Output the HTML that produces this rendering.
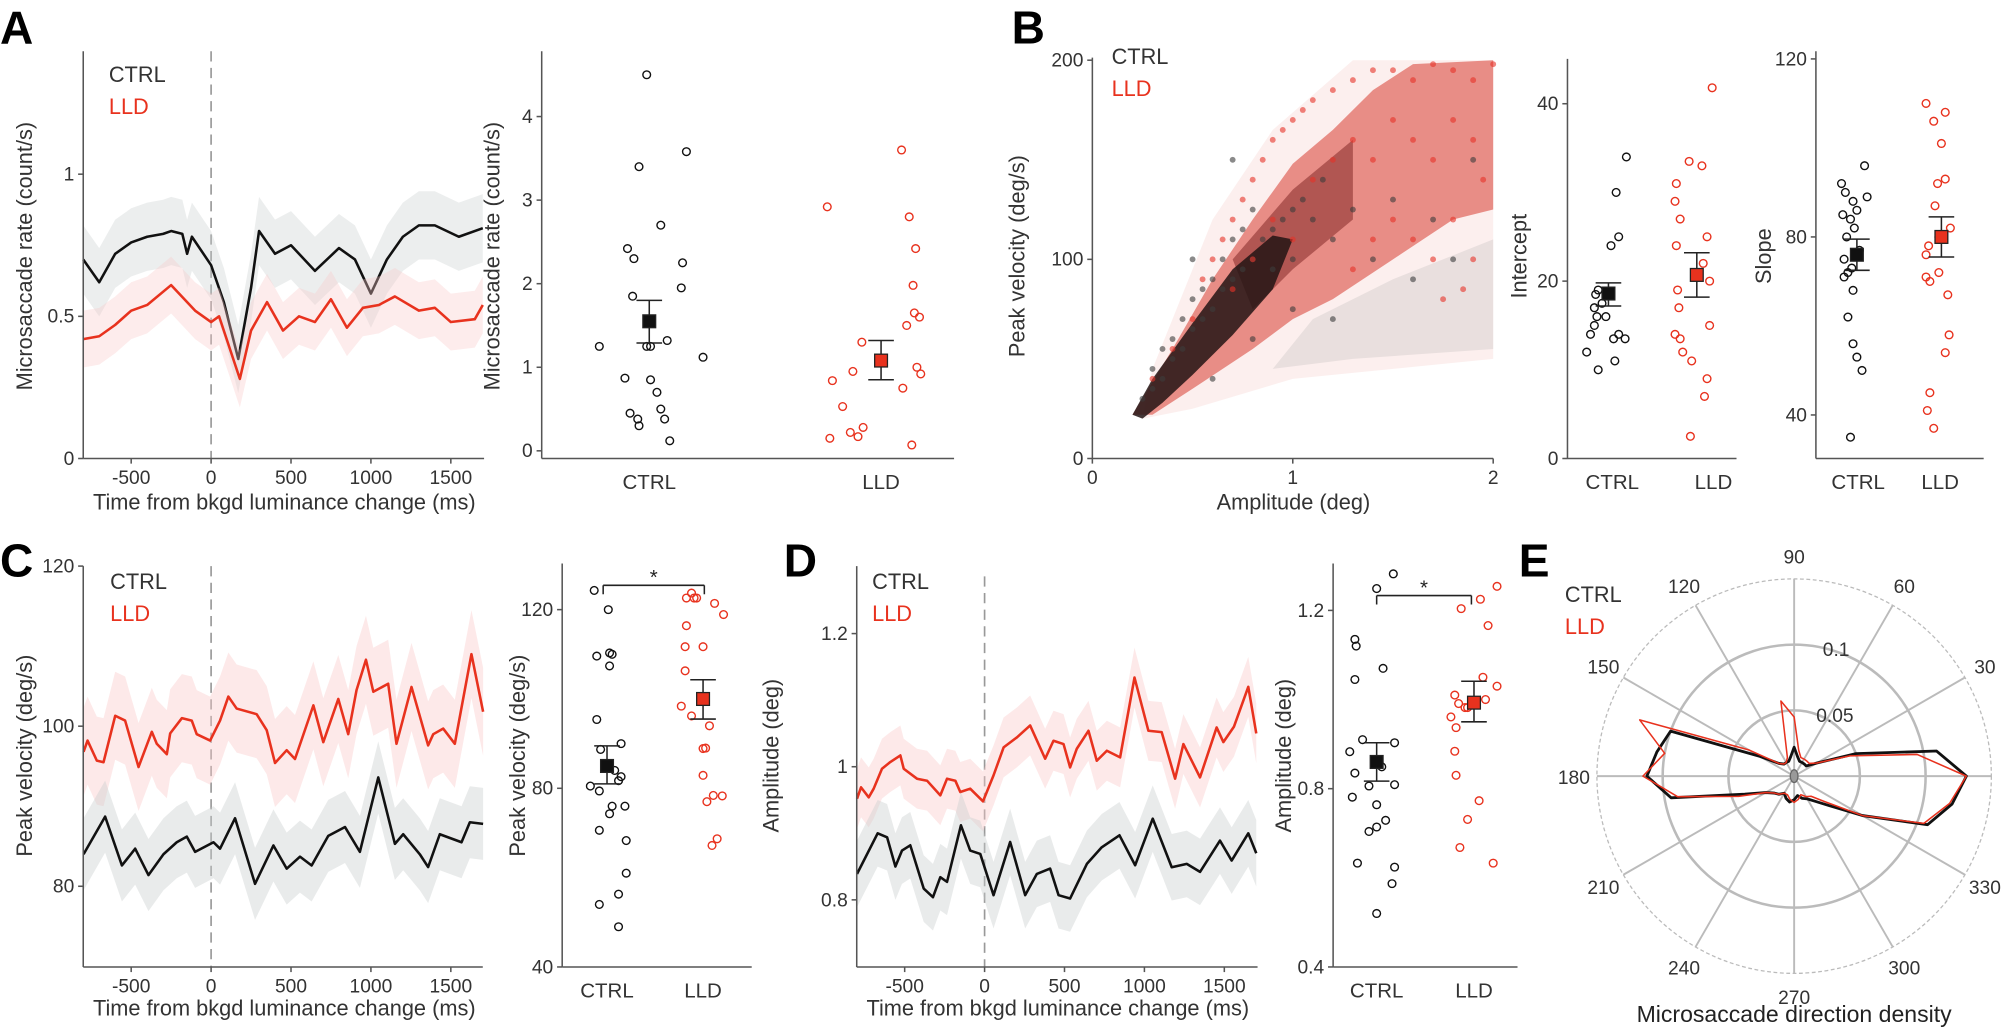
<!DOCTYPE html>
<html><head><meta charset="utf-8"><style>
html,body{margin:0;padding:0;background:#fff;}
svg{display:block;font-family:"Liberation Sans",sans-serif;}
</style></head><body>
<svg id="fig" width="2008" height="1031" viewBox="0 0 1568 805" preserveAspectRatio="none" xmlns="http://www.w3.org/2000/svg"></svg>
<script>
// ---------- DATA ----------
const timeA = [-800,-700,-600,-500,-400,-300,-250,-180,-150,-120,0,80,170,250,300,400,500,650,800,900,1000,1100,1200,1300,1400,1550,1700];
const ctrlRateA = [0.70,0.62,0.72,0.76,0.78,0.79,0.80,0.79,0.72,0.78,0.68,0.55,0.35,0.60,0.80,0.72,0.75,0.66,0.74,0.70,0.58,0.70,0.78,0.82,0.82,0.78,0.81];
const timeA2 = [-800,-700,-600,-500,-400,-250,-100,0,50,180,250,350,450,550,650,750,850,950,1050,1150,1300,1400,1500,1650,1700];
const lldRateA = [0.42,0.43,0.47,0.52,0.54,0.61,0.52,0.48,0.50,0.28,0.45,0.55,0.45,0.50,0.48,0.56,0.46,0.53,0.54,0.57,0.52,0.53,0.48,0.49,0.54];
const ctrlSemA = 0.12, lldSemA = 0.10;

const ctrlRate = [4.5,3.4,3.58,2.7,2.42,2.3,2.25,1.95,1.85,1.25,1.32,1.25,1.25,1.12,0.87,0.85,0.7,0.5,0.45,0.38,0.38,0.3,0.12];
const ctrlRateJit = [-2,-8,29,9,-17,-12,26,25,-13,-39,14,-2,1,42,-19,1,6,9,-15,-9,12,-8,16];
const lldRate = [2.92,3.6,2.8,2.42,1.98,1.65,1.6,1.5,1.3,1.0,0.95,0.84,0.75,0.53,0.28,0.22,0.17,0.15,0.07,0.92];
const lldRateJit = [-42,16,22,27,25,26,30,20,-15,28,-22,-38,17,-30,-14,-24,-18,-40,24,31];
const rateMean = [1.55,1.08], rateLo=[1.29,0.85], rateHi=[1.80,1.32];

const ctrlAmpB=[0.25,0.3,0.3,0.35,0.35,0.4,0.4,0.45,0.45,0.5,0.5,0.55,0.55,0.6,0.6,0.65,0.65,0.7,0.7,0.75,0.75,0.8,0.8,0.85,0.9,0.9,0.95,1.0,1.0,1.05,1.1,1.15,1.2,1.3,1.4,1.5,1.6,1.7,1.8,1.9,1.2,0.8,1.0,0.6,0.7,0.5];
const ctrlVelB=[30,35,45,40,55,50,60,55,70,65,80,70,85,75,90,85,100,90,110,95,115,100,125,110,115,95,120,125,100,130,120,140,110,125,100,130,90,120,100,150,70,60,75,40,150,100];
const lldAmpB=[0.3,0.4,0.5,0.55,0.6,0.65,0.7,0.75,0.8,0.85,0.9,0.95,1.0,1.05,1.1,1.2,1.3,1.4,1.5,1.6,1.7,1.8,1.9,2.0,1.1,1.2,1.3,1.4,1.5,1.6,1.7,1.8,1.9,1.95,1.5,1.6,1.7,1.8,1.9,1.75,1.85,1.4,1.3,1.0,0.9,0.8,0.7];
const lldVelB=[40,55,70,90,100,110,120,130,140,150,160,165,170,175,180,185,190,195,195,190,198,195,190,198,140,150,160,150,170,160,150,170,160,140,120,110,100,120,100,80,85,110,95,110,120,100,85];

const ctrlInt=[34,30,25,24,19,18.5,17.5,17,16,16,15,14,14,13.5,13.5,12,11,10];
const ctrlIntJit=[14,6,8,2,-8,-10,-5,-11,-9,-2,-11,-14,8,13,4,-17,5,-8];
const lldInt=[41.8,33.5,33,31,29,27,25,24,22,20,19,17,15,14,13.5,12,11,9,7,2.5];
const lldIntJit=[12,-6,4,-16,-17,-13,8,-16,5,10,-15,-14,10,-17,-13,-11,-4,8,6,-5];
const intMean=[18.6,20.7], intLo=[17.2,18.2], intHi=[19.8,23.2];

const ctrlSlope=[96,92,90,89,88,86,85,84,82,80,77,75,73,72,71,68,62,56,53,50,35];
const ctrlSlopeJit=[6,-12,-9,8,-3,0,-11,-5,-2,-8,2,-10,-4,-7,-10,-3,-7,-3,0,4,-5];
const lldSlope=[110,108,106,101,93,92,87,82,80,78,76,72,71,70,67,58,54,45,41,37];
const lldSlopeJit=[-12,3,-6,0,3,-3,-5,7,-2,-10,-12,-2,-12,-9,5,6,3,-9,-11,-6];
const slopeMean=[76,80], slopeLo=[72.5,75.5], slopeHi=[79.5,84.5];

const timeC=[-798,-773,-715,-673,-600,-538,-454,-371,-340,-277,-256,-183,-121,-90,-6,56,108,160,285,348,400,473,525,640,702,796,858,910,969,1015,1108,1160,1254,1358,1390,1452,1525,1629,1702];
const lldVelC=[96.8,98.2,95.7,95.5,101.3,100.7,94.9,99.3,97.8,96.5,99.1,101,100.7,99,98.2,100.7,103.7,102.2,101.5,99.5,95.4,97,95.9,102.6,98,103.4,99,104.5,108.3,104.3,105.3,97.8,104.9,97.6,99,99.7,97.8,109,101.8];
const timeC2=[-798,-663,-558,-475,-392,-298,-215,-152,-100,15,56,150,275,390,473,556,629,733,838,931,1046,1150,1202,1306,1358,1431,1567,1619,1702];
const ctrlVelC=[84,88.7,82.6,84.7,81.4,84,85.5,86.2,84.3,85.5,84.7,88.5,80.3,85.1,82.2,83.7,82.6,86.3,87.4,84.3,93.6,85.3,86.5,84,82.4,86.5,85.5,88,87.8];
const ctrlSemC=4.5, lldSemC=5.5;

const ctrlPV=[124.3,120,109.6,110.3,110,107.4,95.4,90,88.7,84,82.6,81.7,80.5,79.4,76,76,74.3,70.6,68.3,61,56.3,54,49];
const ctrlPVJit=[-10,1,-8,2,4,2,-8,11,-5,6,11,9,-13,-6,4,14,2,-6,15,15,9,-6,9];
const lldPV=[123.7,122.6,122.6,122.6,121.4,118.9,116.4,111.7,111.7,106.3,98.4,96.2,94,88.9,89,82.9,78.4,78.3,77,68.7,67.2];
const lldPVJit=[-9,-13,-7,-5,9,16,-13,-14,0,-14,-17,-9,5,0,2,0,8,15,3,11,7];
const pvMean=[85,100], pvLo=[81,95.5], pvHi=[89.5,104.3];

const timeD=[-798,-773,-725,-694,-642,-590,-527,-506,-423,-360,-277,-235,-183,-152,-90,-10,56,119,202,285,379,431,494,535,577,650,702,765,848,938,1025,1108,1192,1244,1348,1452,1494,1560,1650,1700];
const lldAmpD=[0.952,0.969,0.954,0.967,0.997,1.007,1.017,0.997,0.982,0.979,0.957,0.982,0.979,0.962,0.967,0.948,0.987,1.029,1.044,1.062,1.012,1.039,1.034,0.999,1.027,1.054,1.009,1.024,1.014,1.134,1.054,1.052,0.982,1.034,0.984,1.059,1.037,1.06,1.12,1.05];
const timeD2=[-798,-669,-610,-558,-517,-465,-381,-323,-277,-235,-148,-90,-27,56,160,254,327,410,463,535,640,733,844,942,1052,1171,1265,1348,1473,1546,1650,1700];
const ctrlAmpD=[0.839,0.9,0.894,0.85,0.874,0.882,0.817,0.804,0.834,0.827,0.912,0.874,0.869,0.807,0.887,0.807,0.839,0.847,0.807,0.802,0.854,0.879,0.897,0.852,0.922,0.849,0.854,0.842,0.889,0.859,0.9,0.87];
const ctrlSemD=0.05, lldSemD=0.045;

const ctrlAmp=[1.282,1.249,1.135,1.12,1.07,1.045,0.91,0.903,0.883,0.849,0.835,0.806,0.809,0.781,0.764,0.729,0.714,0.704,0.633,0.624,0.587,0.52];
const ctrlAmpJit=[13,0,-17,-16,5,-17,-11,14,-21,4,-17,-6,14,-19,0,7,0,-6,-15,14,12,0];
const lldAmp=[1.254,1.225,1.204,1.166,1.05,1.03,1.01,0.991,1.0,0.982,0.982,0.961,0.937,0.884,0.83,0.773,0.731,0.668,0.633];
const lldAmpJit=[18,5,-10,11,7,18,-15,-12,9,-7,-5,-18,-14,-15,-14,4,-5,-11,15];
const ampMean=[0.86,0.993], ampLo=[0.817,0.95], ampHi=[0.903,1.041];

const dirAngles=[0,10,20,30,40,50,60,70,80,90,100,110,120,130,140,150,160,170,180,190,200,210,220,230,240,250,260,270,280,290,300,310,320,330,340,350];
const ctrlDir=[0.131,0.11,0.05,0.02,0.012,0.012,0.012,0.012,0.015,0.022,0.015,0.012,0.012,0.012,0.015,0.03,0.1,0.106,0.112,0.095,0.04,0.025,0.02,0.018,0.015,0.018,0.02,0.018,0.015,0.018,0.02,0.025,0.035,0.06,0.108,0.122];
const lldDir=[0.131,0.095,0.045,0.02,0.015,0.015,0.015,0.015,0.02,0.045,0.058,0.015,0.012,0.012,0.015,0.04,0.125,0.1,0.115,0.09,0.045,0.025,0.02,0.018,0.015,0.015,0.018,0.02,0.018,0.015,0.018,0.02,0.03,0.06,0.105,0.12];
const polarTicks=[0,30,60,90,120,150,180,210,240,270,300,330];

// ---------- HELPERS ----------
const NS="http://www.w3.org/2000/svg";
const svg=document.getElementById('fig');
const RED="#e8321e", BLK="#111", TXT="#333", AX="#555";
function mk(tag,attrs,parent){const e=document.createElementNS(NS,tag);for(const k in attrs)e.setAttribute(k,attrs[k]);(parent||svg).appendChild(e);return e;}
function lin(d0,d1,r0,r1){return v=>r0+(v-d0)/(d1-d0)*(r1-r0);}
function txt(s,x,y,size,color,anchor,rot,name,weight){
  const t=mk('text',{x:x,y:y,'font-size':size,fill:color,'text-anchor':anchor||'middle'});
  if(rot)t.setAttribute('transform','rotate(-90 '+x+' '+y+')');
  if(weight)t.setAttribute('font-weight',weight);
  t.textContent=s;
  
  
  return t;
}
function line(x1,y1,x2,y2,stroke,w,name,dash){
  const l=mk('line',{x1:x1,y1:y1,x2:x2,y2:y2,stroke:stroke,'stroke-width':w});
  if(dash)l.setAttribute('stroke-dasharray',dash);
  
  
  return l;
}
function axes(x0,x1,y0,y1,yTicks,yFn,yLabels,xTicks,xFn,xLabels,prefix){
  line(x0,y1,x0,y0,AX,1.2,prefix+'-y-axis');
  line(x0,y0,x1,y0,AX,1.2,prefix+'-x-axis');
  yTicks.forEach((v,i)=>{
    line(x0-4,yFn(v),x0,yFn(v),AX,1.2,prefix+'-y-tick');
    txt(yLabels[i],x0-7,yFn(v)+5,15,TXT,'end',false,prefix+'-y-tick-label');
  });
  (xTicks||[]).forEach((v,i)=>{
    line(xFn(v),y0,xFn(v),y0+4,AX,1.2,prefix+'-x-tick');
    txt(xLabels[i],xFn(v),y0+20,15,TXT,'middle',false,prefix+'-x-tick-label');
  });
}
function trace(ts,vs,sem,xf,yf,color,fill,name){
  let up=ts.map((t,i)=>xf(t)+','+yf(vs[i]+sem)).join(' ');
  let dn=ts.map((t,i)=>xf(t)+','+yf(vs[i]-sem)).reverse().join(' ');
  const b=mk('polygon',{points:up+' '+dn,fill:fill,stroke:'none'});
  
  
  const p=mk('polyline',{points:ts.map((t,i)=>xf(t)+','+yf(vs[i])).join(' '),fill:'none',stroke:color,'stroke-width':2,'stroke-linejoin':'round'});
  
  
}
function dots(vals,jit,cx,yf,color,name){
  vals.forEach((v,i)=>{
    const c=mk('circle',{cx:cx+jit[i],cy:yf(v),r:3,fill:'none',stroke:color,'stroke-width':1.1});
    
    
  });
}
function meanBar(m,lo,hi,cx,yf,fill,name){
  line(cx,yf(lo),cx,yf(hi),'#222',1.2,name+'-error-bar');
  line(cx-10,yf(lo),cx+10,yf(lo),'#222',1.2,name+'-error-cap');
  line(cx-10,yf(hi),cx+10,yf(hi),'#222',1.2,name+'-error-cap');
  const r=mk('rect',{x:cx-5,y:yf(m)-5,width:10,height:10,fill:fill,stroke:'#222','stroke-width':1});
  
  
}
function legend(x,y,name){
  txt('CTRL',x,y,17,TXT,'start',false,name+'-ctrl');
  txt('LLD',x,y+25,17,RED,'start',false,name+'-lld');
}
function bracket(x1,x2,y,name){
  line(x1,y,x2,y,'#222',1.2,name+'-significance-bracket');
  line(x1,y,x1,y+7,'#222',1.2,name+'-significance-bracket-left');
  line(x2,y,x2,y+7,'#222',1.2,name+'-significance-bracket-right');
  txt('*',(x1+x2)/2,y-1,16,'#222','middle',false,name+'-significance-star');
}

// ---------- PANEL A ----------
txt('A',0,34,36,'#000','start',false,'panel-label-a','bold');
{
  const xf=lin(-800,1700,65,377), yf=lin(0,1,358,136);
  line(xf(0),40,xf(0),358,'#999',1.3,'a-stimulus-line','8,5');
  trace(timeA,ctrlRateA,ctrlSemA,xf,yf,BLK,'rgba(200,205,205,0.35)','a-ctrl');
  trace(timeA2,lldRateA,lldSemA,xf,yf,RED,'rgba(250,200,200,0.35)','a-lld');
  axes(65,378,358,40,[0,0.5,1],yf,['0','0.5','1'],[-500,0,500,1000,1500],xf,['-500','0','500','1000','1500'],'a-time');
  txt('Time from bkgd luminance change (ms)',222,398,17,TXT,'middle',false,'a-x-axis-title');
  txt('Microsaccade rate (count/s)',25,200,17,TXT,'middle',true,'a-y-axis-title');
  legend(85,64,'a-legend');
}
{
  const yf=lin(0,4,352,91);
  axes(423,745,358,40,[0,1,2,3,4],yf,['0','1','2','3','4'],[],null,[],'a-rate');
  txt('CTRL',507,382,16,TXT,'middle',false,'a-ctrl-label');
  txt('LLD',688,382,16,TXT,'middle',false,'a-lld-label');
  dots(ctrlRate,ctrlRateJit,507,yf,BLK,'a-ctrl-subject');
  dots(lldRate,lldRateJit,688,yf,RED,'a-lld-subject');
  meanBar(rateMean[0],rateLo[0],rateHi[0],507,yf,BLK,'a-ctrl');
  meanBar(rateMean[1],rateLo[1],rateHi[1],688,yf,RED,'a-lld');
  txt('Microsaccade rate (count/s)',390,200,17,TXT,'middle',true,'a-rate-y-axis-title');
}

// ---------- PANEL B ----------
txt('B',790,34,36,'#000','start',false,'panel-label-b','bold');
{
  const xf=lin(0,2,853,1166), yf=lin(0,200,358,47);
  const sparse=[[0.3,45],[0.6,120],[0.9,165],[1.3,200],[2,200],[2,50],[1.5,45],[1.0,40],[0.5,25],[0.25,20]];
  const gry=[[0.9,45],[1.3,50],[2,55],[2,110],[1.5,90],[1.1,70]];
  const env=[[0.2,22],[0.4,55],[0.6,90],[0.8,120],[1.0,148],[1.2,165],[1.4,185],[1.6,198],[2,200],[2,125],[1.8,120],[1.5,100],[1.2,80],[1.0,70],[0.8,55],[0.5,35],[0.3,22]];
  const mid=[[0.7,100],[1.0,135],[1.3,160],[1.3,120],[1.0,95],[0.8,75]];
  const core=[[0.2,22],[0.3,40],[0.5,68],[0.7,95],[0.9,112],[1.0,110],[0.9,85],[0.7,62],[0.5,42],[0.35,28],[0.25,20]];
  [[sparse,'rgba(220,80,70,0.09)','b-sparse-cloud'],[gry,'rgba(160,160,160,0.2)','b-ctrl-sparse-cloud'],[env,'rgba(215,60,50,0.55)','b-lld-cloud'],[mid,'rgba(110,20,20,0.45)','b-overlap-cloud'],[core,'rgba(35,20,20,0.85)','b-ctrl-cloud']].forEach(s=>{
    const p=mk('polygon',{points:s[0].map(q=>xf(q[0])+','+yf(q[1])).join(' '),fill:s[1]});
    
    
  });
  ctrlAmpB.forEach((a,i)=>{const c=mk('circle',{cx:xf(a),cy:yf(ctrlVelB[i]),r:2.3,fill:'rgba(60,60,60,0.6)'});
    
    });
  lldAmpB.forEach((a,i)=>{const c=mk('circle',{cx:xf(a),cy:yf(lldVelB[i]),r:2.3,fill:'rgba(230,50,40,0.6)'});
    
    });
  axes(853,1166,358,45,[0,100,200],yf,['0','100','200'],[0,1,2],xf,['0','1','2'],'b-main');
  txt('Amplitude (deg)',1010,398,17,TXT,'middle',false,'b-x-axis-title');
  txt('Peak velocity (deg/s)',800,200,17,TXT,'middle',true,'b-y-axis-title');
  legend(868,50,'b-legend');
}
{
  const yf=lin(0,40,358,81);
  axes(1224,1356,358,46,[0,20,40],yf,['0','20','40'],[],null,[],'b-intercept');
  txt('CTRL',1259,382,16,TXT,'middle',false,'b-intercept-ctrl-label');
  txt('LLD',1338,382,16,TXT,'middle',false,'b-intercept-lld-label');
  dots(ctrlInt,ctrlIntJit,1256,yf,BLK,'b-intercept-ctrl-subject');
  dots(lldInt,lldIntJit,1325,yf,RED,'b-intercept-lld-subject');
  meanBar(intMean[0],intLo[0],intHi[0],1256,yf,BLK,'b-intercept-ctrl');
  meanBar(intMean[1],intLo[1],intHi[1],1325,yf,RED,'b-intercept-lld');
  txt('Intercept',1192,200,17,TXT,'middle',true,'b-intercept-y-axis-title');
}
{
  const yf=lin(40,120,324,46);
  axes(1418,1549,358,40,[40,80,120],yf,['40','80','120'],[],null,[],'b-slope');
  txt('CTRL',1451,382,16,TXT,'middle',false,'b-slope-ctrl-label');
  txt('LLD',1515,382,16,TXT,'middle',false,'b-slope-lld-label');
  dots(ctrlSlope,ctrlSlopeJit,1450,yf,BLK,'b-slope-ctrl-subject');
  dots(lldSlope,lldSlopeJit,1516,yf,RED,'b-slope-lld-subject');
  meanBar(slopeMean[0],slopeLo[0],slopeHi[0],1450,yf,BLK,'b-slope-ctrl');
  meanBar(slopeMean[1],slopeLo[1],slopeHi[1],1516,yf,RED,'b-slope-lld');
  txt('Slope',1383,200,17,TXT,'middle',true,'b-slope-y-axis-title');
}

// ---------- PANEL C ----------
txt('C',0,450,36,'#000','start',false,'panel-label-c','bold');
{
  const xf=lin(-800,1700,65,377), yf=lin(80,120,692,442);
  line(xf(0),442,xf(0),755,'#999',1.3,'c-stimulus-line','8,5');
  trace(timeC,lldVelC,lldSemC,xf,yf,RED,'rgba(250,200,200,0.4)','c-lld');
  trace(timeC2,ctrlVelC,ctrlSemC,xf,yf,BLK,'rgba(200,205,205,0.4)','c-ctrl');
  axes(65,377,755,442,[80,100,120],yf,['80','100','120'],[-500,0,500,1000,1500],xf,['-500','0','500','1000','1500'],'c-time');
  txt('Time from bkgd luminance change (ms)',222,793,17,TXT,'middle',false,'c-x-axis-title');
  txt('Peak velocity (deg/s)',25,590,17,TXT,'middle',true,'c-y-axis-title');
  legend(86,460,'c-legend');
}
{
  const yf=lin(40,120,755,476);
  axes(439,587,755,440,[40,80,120],yf,['40','80','120'],[],null,[],'c-pv');
  txt('CTRL',474,779,16,TXT,'middle',false,'c-ctrl-label');
  txt('LLD',549,779,16,TXT,'middle',false,'c-lld-label');
  dots(ctrlPV,ctrlPVJit,474,yf,BLK,'c-ctrl-subject');
  dots(lldPV,lldPVJit,549,yf,RED,'c-lld-subject');
  meanBar(pvMean[0],pvLo[0],pvHi[0],474,yf,BLK,'c-ctrl');
  meanBar(pvMean[1],pvLo[1],pvHi[1],549,yf,RED,'c-lld');
  bracket(471,550,457,'c');
  txt('Peak velocity (deg/s)',410,590,17,TXT,'middle',true,'c-pv-y-axis-title');
}

// ---------- PANEL D ----------
txt('D',612,450,36,'#000','start',false,'panel-label-d','bold');
{
  const xf=lin(-800,1700,669,981), yf=lin(0.8,1.2,702.6,494.7);
  line(xf(0),450,xf(0),755,'#999',1.3,'d-stimulus-line','8,5');
  trace(timeD,lldAmpD,lldSemD,xf,yf,RED,'rgba(250,200,200,0.4)','d-lld');
  trace(timeD2,ctrlAmpD,ctrlSemD,xf,yf,BLK,'rgba(200,205,205,0.4)','d-ctrl');
  axes(669,982,755,442,[0.8,1,1.2],yf,['0.8','1','1.2'],[-500,0,500,1000,1500],xf,['-500','0','500','1000','1500'],'d-time');
  txt('Time from bkgd luminance change (ms)',826,793,17,TXT,'middle',false,'d-x-axis-title');
  txt('Amplitude (deg)',608,590,17,TXT,'middle',true,'d-y-axis-title');
  legend(681,460,'d-legend');
}
{
  const yf=lin(0.4,1.2,755,476.6);
  axes(1041,1185,755,440,[0.4,0.8,1.2],yf,['0.4','0.8','1.2'],[],null,[],'d-amp');
  txt('CTRL',1075,779,16,TXT,'middle',false,'d-ctrl-label');
  txt('LLD',1151,779,16,TXT,'middle',false,'d-lld-label');
  dots(ctrlAmp,ctrlAmpJit,1075,yf,BLK,'d-ctrl-subject');
  dots(lldAmp,lldAmpJit,1151,yf,RED,'d-lld-subject');
  meanBar(ampMean[0],ampLo[0],ampHi[0],1075,yf,BLK,'d-ctrl');
  meanBar(ampMean[1],ampLo[1],ampHi[1],1151,yf,RED,'d-lld');
  bracket(1075,1149,465,'d');
  txt('Amplitude (deg)',1008,590,17,TXT,'middle',true,'d-amp-y-axis-title');
}

// ---------- PANEL E ----------
txt('E',1186,450,36,'#000','start',false,'panel-label-e','bold');
{
  const cx=1401, cy=606, R=154, rf=lin(0,0.15,0,R);
  const outer=mk('circle',{cx:cx,cy:cy,r:R,fill:'none',stroke:'#bbb','stroke-width':1,'stroke-dasharray':'3,2'});
  
  
  [0.05,0.1].forEach(v=>{const c=mk('circle',{cx:cx,cy:cy,r:rf(v),fill:'none',stroke:'#bbb','stroke-width':2});
    
    });
  polarTicks.forEach(a=>{
    const t=a*Math.PI/180;
    line(cx,cy,cx+R*Math.cos(t),cy-R*Math.sin(t),'#bbb',1.5,'e-angle-spoke');
    txt(String(a),cx+172*Math.cos(t),cy-172*Math.sin(t)+6,15,TXT,'middle',false,'e-angle-label');
  });
  txt('0.1',cx+rf(0.1)*Math.cos(1.45)+10,cy-rf(0.1)*Math.sin(1.45)+8,15,TXT,'start',false,'e-radial-label');
  txt('0.05',cx+rf(0.05)*Math.cos(1.35)+6,cy-rf(0.05)*Math.sin(1.35)+8,15,TXT,'start',false,'e-radial-label');
  function polar(vals,color,w,name){
    const pts=dirAngles.map((a,i)=>{const t=a*Math.PI/180;return (cx+rf(vals[i])*Math.cos(t))+','+(cy-rf(vals[i])*Math.sin(t));});
    const p=mk('polygon',{points:pts.join(' '),fill:'none',stroke:color,'stroke-width':w,'stroke-linejoin':'round'});
    
    
  }
  polar(ctrlDir,BLK,2.2,'e-ctrl-direction-density');
  polar(lldDir,RED,1.2,'e-lld-direction-density');
  const ce=mk('ellipse',{cx:cx,cy:cy,rx:3,ry:5,fill:'#999',stroke:'#666'});
  
  
  txt('Microsaccade direction density',cx,798,18,'#222','middle',false,'e-title');
  legend(1222,470,'e-legend');
}
</script>
</body></html>
